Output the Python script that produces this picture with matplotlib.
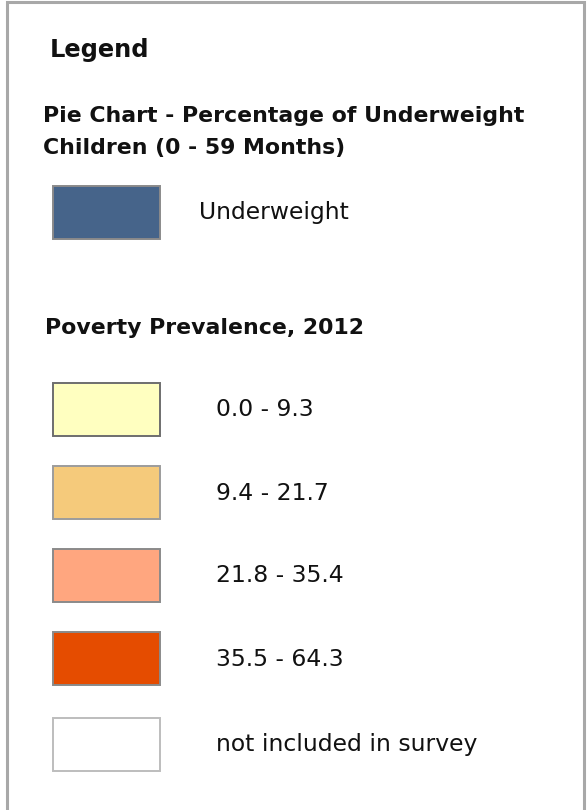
import matplotlib.pyplot as plt
from matplotlib.patches import Rectangle

# legend content
titulo = "Legend"
pie_title = ["Pie Chart - Percentage of Underweight", "Children (0 - 59 Months)"]
pie_labels = ["Underweight"]
pie_colors = ["#46648a"]
poverty_title = "Poverty Prevalence, 2012"
poverty_labels = ["0.0 - 9.3", "9.4 - 21.7", "21.8 - 35.4", "35.5 - 64.3",
                  "not included in survey"]
poverty_colors = ["#ffffc0", "#f5ca7b", "#ffa67f", "#e54c00", "#ffffff"]
poverty_edges = ["#6e6e6e", "#9c9c9c", "#8a8a8a", "#8a8a8a", "#bdbdbd"]

W, H = 588, 810
INK = "#111111"


def swatch(ax, top, color, edge):
    ax.add_patch(Rectangle((52.5, top), 107, 53, facecolor=color,
                           edgecolor=edge, linewidth=1.4))


def main():
    fig = plt.figure(figsize=(W / 100, H / 100), dpi=100)
    ax = fig.add_axes([0, 0, 1, 1])
    ax.set_xlim(0, W)
    ax.set_ylim(H, 0)
    ax.axis("off")

    # marco gris exterior
    ax.plot([7, 7, 584, 584], [H + 5, 1.5, 1.5, H + 5],
            color="#a8a8a8", linewidth=2.2, solid_joinstyle="miter")

    ax.text(50, 57, titulo, fontsize=17.4, fontweight="bold", va="baseline", color=INK)
    ax.text(43, 122, pie_title[0], fontsize=15.8, fontweight="bold", va="baseline", color=INK)
    ax.text(43, 154, pie_title[1], fontsize=15.8, fontweight="bold", va="baseline", color=INK)

    for lab, col in zip(pie_labels, pie_colors):
        swatch(ax, 186, col, "#8a8a8a")
        ax.text(199, 213, lab, fontsize=16.8, va="center", color=INK)

    ax.text(45, 334, poverty_title, fontsize=15.85, fontweight="bold", va="baseline", color=INK)

    tops = [383, 466, 549, 632, 718]
    for top, lab, col, edge in zip(tops, poverty_labels, poverty_colors, poverty_edges):
        swatch(ax, top, col, edge)
        ax.text(216, top + 27, lab, fontsize=16.9, va="center", color=INK)

    fig.savefig("out.png", dpi=100, facecolor="white")


if __name__ == "__main__":
    main()
